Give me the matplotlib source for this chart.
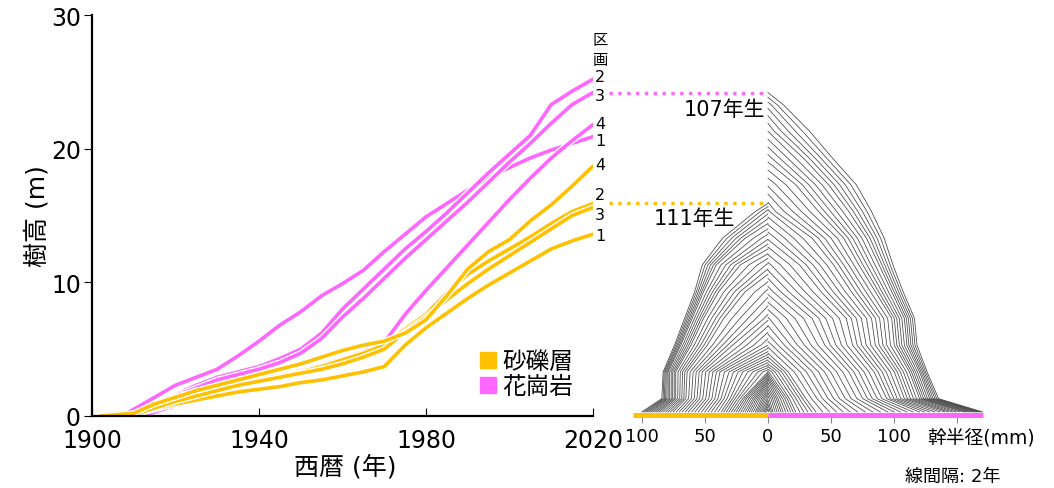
import numpy as np
import matplotlib
matplotlib.use('Agg')
import matplotlib.pyplot as plt
import matplotlib.patheffects as pe
from matplotlib.lines import Line2D

plt.rcParams['font.family'] = ['DejaVu Sans', 'Noto Sans CJK JP']

ORANGE = '#FFC000'
PINK = '#FF66FF'

# ---- tree height by year (m), every 5 years from 1910 ----
yrs = [1910, 1915, 1920, 1925, 1930, 1935, 1940, 1945, 1950, 1955, 1960, 1965,
       1970, 1975, 1980, 1985, 1990, 1995, 2000, 2005, 2010, 2015, 2020]

# 砂礫層 plots
o1 = [0.1, 0.5, 0.9, 1.2, 1.5, 1.8, 2.0, 2.2, 2.5, 2.7, 3.0, 3.3,
      3.7, 5.3, 6.6, 7.7, 8.8, 9.8, 10.7, 11.6, 12.5, 13.1, 13.6]
o2 = [0.1, 0.6, 1.1, 1.6, 2.0, 2.4, 2.7, 3.0, 3.3, 3.7, 4.2, 4.7,
      5.3, 6.5, 7.6, 9.2, 10.6, 11.6, 12.5, 13.4, 14.4, 15.3, 15.9]
o3 = [0.1, 0.6, 1.1, 1.5, 1.9, 2.3, 2.6, 2.9, 3.2, 3.5, 3.9, 4.4,
      5.0, 6.3, 7.4, 8.7, 9.9, 11.0, 12.0, 13.0, 14.0, 15.0, 15.6]
o4 = [0.2, 0.9, 1.4, 1.9, 2.3, 2.7, 3.1, 3.5, 3.9, 4.4, 4.9, 5.3,
      5.6, 6.2, 7.2, 9.0, 11.0, 12.3, 13.2, 14.6, 15.8, 17.2, 18.7]

# 花崗岩 plots
p1 = [0.5, 1.4, 2.3, 2.9, 3.5, 4.5, 5.6, 6.8, 7.8, 9.0, 9.9, 10.9,
      12.3, 13.6, 14.9, 15.9, 16.9, 17.8, 18.6, 19.3, 19.9, 20.4, 20.9]
p2 = [0.0, 0.8, 1.6, 2.3, 2.9, 3.3, 3.7, 4.3, 5.0, 6.2, 8.0, 9.5,
      11.0, 12.5, 13.8, 15.2, 16.7, 18.2, 19.6, 21.0, 23.3, 24.3, 25.2]
p3 = [0.0, 0.7, 1.5, 2.1, 2.7, 3.1, 3.5, 4.0, 4.7, 5.8, 7.4, 8.8,
      10.3, 11.8, 13.2, 14.6, 16.0, 17.5, 19.0, 20.4, 21.9, 23.3, 24.2]
p4 = [0.0, 0.3, 0.8, 1.3, 1.8, 2.2, 2.7, 3.0, 3.4, 3.8, 4.3, 4.8,
      5.5, 7.6, 9.4, 11.1, 12.8, 14.5, 16.2, 17.8, 19.3, 20.6, 21.8]

# first year each plot shows a height
start_o = 1902
start_p = {'1': 1907, '2': 1909, '3': 1911, '4': 1912}

# label heights at the line ends
lab_o = {'1': 13.5, '2': 16.6, '3': 15.1, '4': 18.8}
lab_p = {'1': 20.6, '2': 25.4, '3': 24.0, '4': 21.9}

# ---- stem analysis: radius (mm) at each disk height, by year ----
ring_years = [1920, 1930, 1940, 1950, 1960, 1970, 1980, 1990, 2000, 2010, 2020]

disk_p = [0.3, 1.3, 3.3, 5.3, 7.3, 9.3, 11.3, 13.3, 15.3, 17.3, 19.3, 21.3, 23.3]
rad_p = [
    [4, 12, 22, 38, 65, 95, 120, 140, 155, 164, 170],
    [1, 8, 17, 30, 52, 75, 94, 108, 120, 128, 135],
    [0, 0, 3, 16, 40, 64, 84, 100, 112, 120, 126],
    [0, 0, 0, 0, 18, 45, 67, 85, 100, 110, 118],
    [0, 0, 0, 0, 1, 35, 62, 82, 98, 108, 116],
    [0, 0, 0, 0, 0, 10, 42, 66, 85, 98, 107],
    [0, 0, 0, 0, 0, 0, 25, 52, 72, 88, 99],
    [0, 0, 0, 0, 0, 0, 0, 35, 60, 78, 92],
    [0, 0, 0, 0, 0, 0, 0, 6, 40, 64, 82],
    [0, 0, 0, 0, 0, 0, 0, 0, 22, 48, 70],
    [0, 0, 0, 0, 0, 0, 0, 0, 0, 28, 51],
    [0, 0, 0, 0, 0, 0, 0, 0, 0, 5, 33],
    [0, 0, 0, 0, 0, 0, 0, 0, 0, 0, 12],
]

disk_o = [0.3, 1.3, 3.3, 5.3, 7.3, 9.3, 11.3, 13.3, 15.3]
rad_o = [
    [4, 10, 18, 27, 37, 50, 63, 75, 85, 93, 100],
    [0, 5, 12, 20, 30, 42, 54, 65, 73, 79, 84],
    [0, 0, 0, 0, 20, 38, 52, 64, 73, 79, 83],
    [0, 0, 0, 0, 0, 0, 28, 48, 61, 69, 74],
    [0, 0, 0, 0, 0, 0, 3, 35, 51, 60, 66],
    [0, 0, 0, 0, 0, 0, 0, 18, 39, 51, 58],
    [0, 0, 0, 0, 0, 0, 0, 0, 22, 41, 52],
    [0, 0, 0, 0, 0, 0, 0, 0, 0, 18, 36],
    [0, 0, 0, 0, 0, 0, 0, 0, 0, 0, 10],
]

fig = plt.figure(figsize=(10.54, 4.89), dpi=100)
ax = fig.add_axes([92 / 1054, 72 / 489, 501 / 1054, 401 / 489])

white_edge = [pe.Stroke(linewidth=4.6, foreground='white'), pe.Normal()]

def series(start, vals):
    x = [start] + [y for y in yrs if y > start]
    h = [0.0] + [v for y, v in zip(yrs, vals) if y > start]
    return x, h

for key, vals in zip(['1', '2', '3', '4'], [p1, p2, p3, p4]):
    x, h = series(start_p[key], vals)
    ax.plot(x, h, color=PINK, lw=2.6, path_effects=white_edge, solid_capstyle='round')
    ax.text(2021.7, lab_p[key], key, fontsize=11.5, ha='center', va='center', clip_on=False)

for key, vals in zip(['1', '2', '3', '4'], [o1, o2, o3, o4]):
    x, h = series(start_o, vals)
    ax.plot(x, h, color=ORANGE, lw=2.6, path_effects=white_edge, solid_capstyle='round')
    ax.text(2021.7, lab_o[key], key, fontsize=11.5, ha='center', va='center', clip_on=False)

ax.text(2021.7, 28.2, '区', fontsize=11, ha='center', va='center', clip_on=False)
ax.text(2021.7, 26.7, '画', fontsize=11, ha='center', va='center', clip_on=False)

ax.set_xlim(1900, 2020)
ax.set_ylim(0, 30)
ax.set_xticks([1900, 1940, 1980, 2020])
ax.set_yticks([0, 10, 20, 30])
ax.tick_params(axis='x', direction='in', length=6, labelsize=17, pad=9)
ax.tick_params(axis='y', direction='out', length=6, labelsize=17, pad=2)
for s in ['top', 'right']:
    ax.spines[s].set_visible(False)
for s in ['left', 'bottom']:
    ax.spines[s].set_linewidth(1.6)
ax.set_xlabel('西暦 (年)', fontsize=18)
ax.set_ylabel('樹高 (m)', fontsize=18)
ax.xaxis.set_label_coords(0.505, -0.095)
ax.yaxis.set_label_coords(-0.084, 0.5)

handles = [Line2D([], [], ls='', marker='s', ms=11, color=ORANGE, label='砂礫層'),
           Line2D([], [], ls='', marker='s', ms=11, color=PINK, label='花崗岩')]
ax.legend(handles=handles, loc='lower right', bbox_to_anchor=(0.984, 0.015),
          frameon=False, fontsize=17, handletextpad=0.1, labelspacing=0.05,
          borderpad=0, handlelength=1.0)

# ---- stem analysis panel ----
ax2 = fig.add_axes([629 / 1054, 72 / 489, 360 / 1054, 401 / 489])
ax2.set_xlim(-110, 175)
ax2.set_ylim(0, 30)

def contours(disks, table, h_years, h_vals, sign, first_year):
    for yc in range(2020, first_year, -2):
        top = np.interp(yc, h_years, h_vals)
        xs, hs = [], []
        for d, row in zip(disks, table):
            if d >= top:
                break
            reach = np.interp(d, h_vals, h_years)
            ty = [reach] + [c for c in ring_years if c > reach]
            tr = [0] + [r for c, r in zip(ring_years, row) if c > reach]
            xs.append(sign * np.interp(yc, ty, tr))
            hs.append(d)
        if not xs:
            continue
        xs.append(0)
        hs.append(top)
        ax2.plot(xs, hs, color='#444444', lw=0.55)

ox, oh = series(start_o, o2)
contours(disk_o, rad_o, ox, oh, -1, 1911)
px, ph = series(start_p['3'], p3)
contours(disk_p, rad_p, px, ph, 1, 1913)

ax2.plot([-107, 0], [0.11, 0.11], color=ORANGE, lw=3.6, solid_capstyle='butt', clip_on=False)
ax2.plot([0, 170], [0.11, 0.11], color=PINK, lw=3.6, solid_capstyle='butt', clip_on=False)

ax2.plot([-126, 0], [p3[-1], p3[-1]], color=PINK, lw=2.4, ls=':', clip_on=False)
ax2.plot([-126, 0], [o2[-1], o2[-1]], color=ORANGE, lw=2.4, ls=':', clip_on=False)
ax2.text(-2.5, 23.0, '107年生', fontsize=15, ha='right', va='center')
ax2.text(-26, 14.8, '111年生', fontsize=15, ha='right', va='center')

for s in ['top', 'right', 'left', 'bottom']:
    ax2.spines[s].set_visible(False)
ax2.set_yticks([])
ax2.set_xticks([-100, -50, 0, 50, 100, 150])
ax2.set_xticklabels(['100', '50', '0', '50', '100', ''])
ax2.tick_params(axis='x', direction='out', length=5, color='#888888', labelsize=13, pad=3)
ax2.text(168.6, -1.57, '幹半径(mm)', fontsize=13.5, ha='center', va='center', clip_on=False)
ax2.text(146.5, -4.49, '線間隔: 2年', fontsize=13, ha='center', va='center', clip_on=False)

fig.savefig('out.png', dpi=100)
